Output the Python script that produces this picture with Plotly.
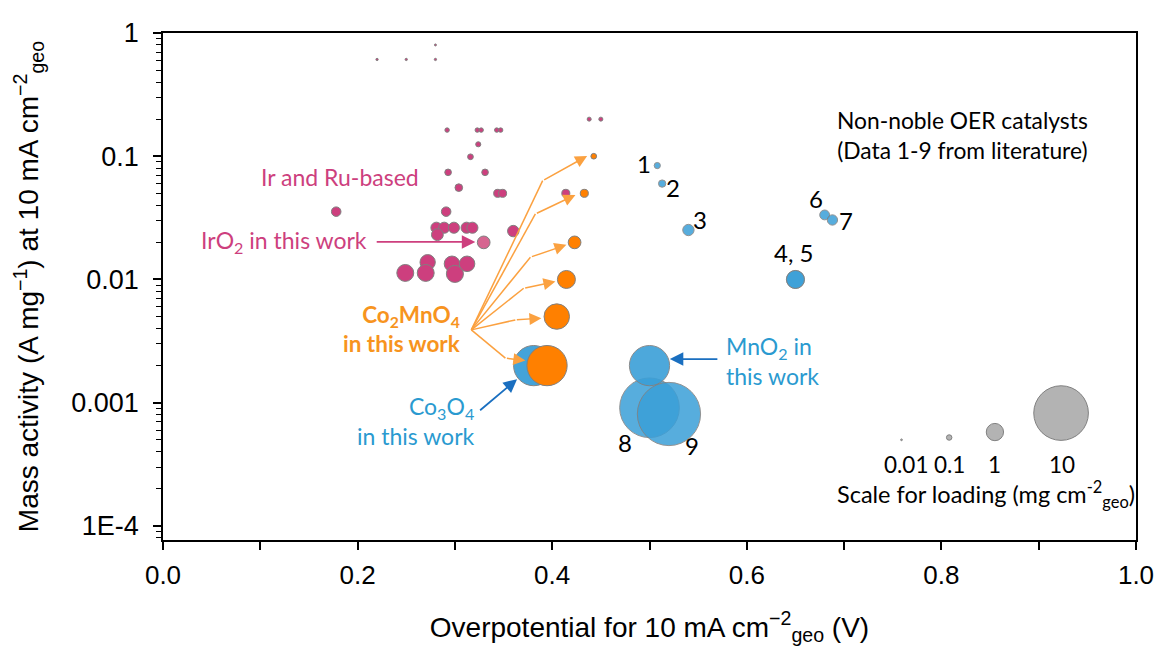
import numpy as np
import plotly.graph_objects as go

# ---------------- data ----------------
# Ir and Ru-based catalysts (literature): overpotential (V), mass activity (A/mg)
ir_x = [0.220, 0.250, 0.280, 0.280,
        0.292, 0.323, 0.327, 0.343, 0.347,
        0.438, 0.450,
        0.324, 0.316, 0.293, 0.331, 0.304,
        0.344, 0.349, 0.414,
        0.178, 0.291,
        0.281, 0.289, 0.299, 0.312, 0.318, 0.282, 0.360,
        0.249, 0.272, 0.270, 0.297, 0.300, 0.3125]
ir_y = [0.61, 0.61, 0.61, 0.80,
        0.163, 0.163, 0.163, 0.163, 0.163,
        0.20, 0.20,
        0.125, 0.099, 0.074, 0.074, 0.0556,
        0.050, 0.050, 0.050,
        0.0355, 0.0355,
        0.0263, 0.0263, 0.0263, 0.0263, 0.0263, 0.0231, 0.0247,
        0.0113, 0.0138, 0.0113, 0.0134, 0.0111, 0.0134]

# IrO2 in this work
iro2_x = [0.3296]
iro2_y = [0.020]

# Co2MnO4 in this work
cmo_x = [0.4427, 0.433, 0.423, 0.4146, 0.4047, 0.3947]
cmo_y = [0.100, 0.050, 0.020, 0.010, 0.005, 0.002]

# Co3O4 and MnO2 in this work
co3o4_x = [0.381]
co3o4_y = [0.002]
mno2_x = [0.500]
mno2_y = [0.002]

# Non-noble OER catalysts from literature (1-9)
nn_labels = ["1", "2", "3", "4", "5", "6", "7", "8", "9"]
nn_x = [0.508, 0.513, 0.540, 0.650, 0.650, 0.680, 0.688, 0.500, 0.520]
nn_y = [0.084, 0.060, 0.0252, 0.010, 0.010, 0.0334, 0.0304, 0.00091, 0.00081]

# loading scale bubbles (mg cm-2)
scale_load = [0.01, 0.1, 1, 10]
scale_text = ["0.01", "0.1", "1", "10"]
scale_x = [0.759, 0.808, 0.855, 0.923]
scale_y = [0.00050, 0.000522, 0.000578, 0.000824]

# ---------------- styling ----------------
MAG = "#CD3F7E"
MAG_L = "#D66590"
ORG = "#FF8000"
ORG_AR = "#FBA140"
ORG_TX = "#F7941E"
BLU = "#3A9FD8"
BLU_TX = "#2A9AD0"
BLU_AR = "#1A6FC0"
EDGE = "#808080"
TXT_FONT = "Lato"
AX_FONT = "Liberation Sans, Arial, sans-serif"


def diam(load):
    # bubble diameter in px, area proportional to catalyst loading
    return 18.0 * np.sqrt(np.asarray(load, dtype=float))


def load_of(y):
    # mass activity at 10 mA cm-2 = 0.01 A cm-2 / loading (mg cm-2)
    return 0.01 / np.asarray(y, dtype=float)


fig = go.Figure()


def bubbles(x, y, color, opacity=1.0, size=None):
    s = diam(load_of(y)) if size is None else size
    fig.add_trace(go.Scatter(
        x=x, y=y, mode="markers", hoverinfo="skip", showlegend=False,
        marker=dict(size=s, color=color, opacity=opacity,
                    line=dict(color=EDGE, width=1))))


bubbles(ir_x, ir_y, MAG)
bubbles(iro2_x, iro2_y, MAG_L)
bubbles(nn_x, nn_y, BLU, opacity=0.85)
bubbles(mno2_x, mno2_y, BLU, opacity=0.9)
bubbles(co3o4_x, co3o4_y, BLU, opacity=0.95)
bubbles(cmo_x, cmo_y, ORG)
bubbles(scale_x, scale_y, "#B3B3B3", size=diam(scale_load) * 0.96)

# ---------------- arrows ----------------
origin = (0.3169, -2.409)
kinks = [(0.3902, -1.198), (0.3827, -1.468), (0.3776, -1.819),
         (0.3707, -2.071), (0.3621, -2.328), (0.3519, -2.638)]
heads = [(0.4359, -0.998), (0.4239, -1.314), (0.4146, -1.719),
         (0.4033, -2.017), (0.3889, -2.314), (0.3724, -2.658)]

annotations = []
for (kx, ky), (hx, hy) in zip(kinks, heads):
    fig.add_trace(go.Scatter(
        x=[origin[0], kx], y=[10 ** origin[1], 10 ** ky], mode="lines",
        line=dict(color=ORG_AR, width=1.5), hoverinfo="skip", showlegend=False))
    annotations.append(dict(x=hx, y=hy, ax=kx, ay=ky, xref="x", yref="y",
                            axref="x", ayref="y", text="", showarrow=True,
                            arrowhead=2, arrowsize=1.6, arrowwidth=1.5,
                            arrowcolor=ORG_AR))

# IrO2 arrow
annotations.append(dict(x=0.321, y=-1.695, ax=0.2181, ay=-1.695, xref="x", yref="y",
                        axref="x", ayref="y", text="", showarrow=True,
                        arrowhead=2, arrowsize=1.5, arrowwidth=1.8, arrowcolor=MAG))
# Co3O4 arrow
annotations.append(dict(x=0.3639, y=-2.809, ax=0.3244, ay=-3.071, xref="x", yref="y",
                        axref="x", ayref="y", text="", showarrow=True,
                        arrowhead=2, arrowsize=1.5, arrowwidth=1.8, arrowcolor=BLU_AR))
# MnO2 arrow
annotations.append(dict(x=0.5209, y=-2.646, ax=0.5713, ay=-2.646, xref="x", yref="y",
                        axref="x", ayref="y", text="", showarrow=True,
                        arrowhead=2, arrowsize=1.5, arrowwidth=1.8, arrowcolor=BLU_AR))


def txt(x, y, text, color="black", size=22.5, xanchor="center", align="center", bold=False):
    annotations.append(dict(x=x, y=y, xref="x", yref="y", text=text, showarrow=False,
                            xanchor=xanchor, yanchor="middle", align=align,
                            font=dict(family=TXT_FONT, size=size, color=color,
                                      weight="bold" if bold else "normal")))


txt(0.1816, -1.165, "Ir and Ru-based", MAG, size=23)
txt(0.2112, -1.693, "IrO<sub>2</sub> in this work", MAG, size=23, xanchor="right")
txt(0.3085, -2.401, "Co<sub>2</sub>MnO<sub>4</sub><br>in this work", ORG_TX, size=22.5,
    xanchor="right", align="right", bold=True)
txt(0.3227, -3.151, "Co<sub>3</sub>O<sub>4</sub><br>in this work", BLU_TX, size=23,
    xanchor="right", align="right")
txt(0.5764, -2.659, "MnO<sub>2</sub> in<br>this work", BLU_TX, size=23,
    xanchor="left", align="left")
txt(0.8217, -0.827, "Non-noble OER catalysts<br>(Data 1-9 from literature)", size=22.8)

num_pos = [("1", 0.4941, -1.057), ("2", 0.5244, -1.251), ("3", 0.5517, -1.511),
           ("4, 5", 0.6478, -1.782), ("6", 0.6708, -1.341), ("7", 0.7024, -1.522),
           ("8", 0.4753, -3.323), ("9", 0.5439, -3.35)]
for t, x, y in num_pos:
    txt(x, y, t, size=24)

for t, x in zip(scale_text, [0.7636, 0.8085, 0.8549, 0.9236]):
    txt(x, -3.498, t, size=22.5)
txt(0.8462, -3.747, "Scale for loading (mg cm<sup>-2</sup><sub>geo</sub>)", size=23.5)

# ---------------- layout ----------------
major = [1e-4, 1e-3, 1e-2, 1e-1, 1]
minor_vals = [m * 10.0 ** e for e in range(-5, 0) for m in range(2, 10)]

fig.update_layout(
    width=1159, height=648,
    margin=dict(l=163, r=23, t=33, b=108, autoexpand=False),
    paper_bgcolor="white", plot_bgcolor="white",
    showlegend=False,
    annotations=annotations,
    xaxis=dict(
        range=[0, 1.0], dtick=0.2, tick0=0, tickformat=".1f", automargin=False,
        ticks="outside", ticklen=8, tickwidth=1.5, tickcolor="black",
        minor=dict(dtick=0.1, ticks="outside", ticklen=8, tickwidth=1.5, tickcolor="black"),
        showline=True, mirror=True, linecolor="black", linewidth=1.5,
        showgrid=False, zeroline=False, ticklabelstandoff=3,
        tickfont=dict(family=AX_FONT, size=26, color="black"),
        title=dict(text="Overpotential for 10 mA cm<sup>−2</sup><sub>geo</sub> (V)",
                   font=dict(family=AX_FONT, size=28, color="black"), standoff=28),
    ),
    yaxis=dict(
        type="log", range=[-4.114, 0], automargin=False,
        tickmode="array", tickvals=major, ticktext=["1E-4", "0.001", "0.01", "0.1", "1"],
        ticks="outside", ticklen=8, tickwidth=1.5, tickcolor="black",
        minor=dict(tickmode="array", tickvals=minor_vals, ticks="outside", ticklen=5,
                   tickwidth=1, tickcolor="black"),
        showline=True, mirror=True, linecolor="black", linewidth=1.5,
        showgrid=False, zeroline=False, ticklabelstandoff=9,
        tickfont=dict(family=AX_FONT, size=27, color="black"),
        title=dict(text="Mass activity (A mg<sup>−1</sup>) at 10 mA cm<sup>−2</sup><sub>geo</sub>",
                   font=dict(family=AX_FONT, size=28, color="black"), standoff=24),
    ),
)

fig.write_html("out.html")
